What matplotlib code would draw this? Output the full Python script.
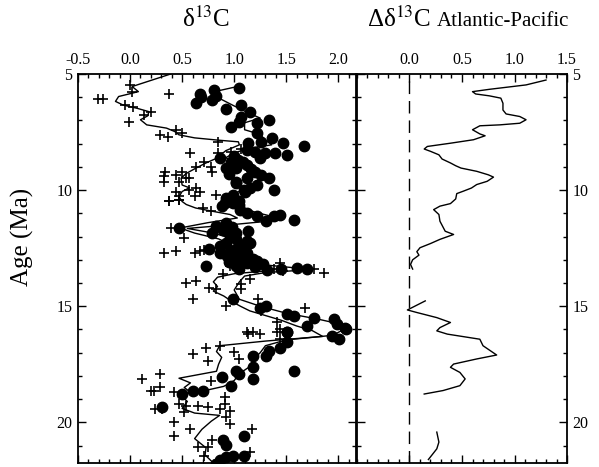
import matplotlib
matplotlib.use('Agg')
import matplotlib.pyplot as plt
from matplotlib.ticker import MultipleLocator, FixedLocator, FormatStrFormatter

plt.rcParams['font.family'] = ['Liberation Serif', 'DejaVu Serif']
plt.rcParams['mathtext.fontset'] = 'stix'

# ---------------- data ----------------
# Pacific (crosses): d13C values and ages (Ma)
pac_d13c = [0.00, 0.02, -0.31, -0.26, 0.37, -0.05, 0.03, 0.20, 0.13, -0.01,
            0.29, 0.36, 0.44, 0.50, 0.84, 0.58, 0.84, 0.97, 1.07, 0.63,
            0.71, 0.78, 0.79, 0.34, 0.33, 0.33, 0.44, 0.50, 0.54, 0.47,
            0.57, 0.44, 0.47, 0.57, 0.63, 0.67, 0.62, 0.37, 0.47, 0.83,
            0.37, 0.47, 0.70, 0.78, 0.39, 0.52, 0.33, 0.44, 0.62, 0.67,
            0.71, 0.96, 0.89, 0.54, 0.63, 0.76, 0.83, 1.07, 1.07, 1.15,
            0.60, 0.92, 1.23, 1.26, 1.44, 1.38, 1.47, 1.60, 1.77, 1.86,
            1.68, 1.12, 1.18, 1.41, 1.44,
            1.13, 1.25, 1.41, 1.44, 0.73, 0.86, 0.60, 0.75, 1.00, 1.05,
            0.29, 0.11, 0.29, 0.20, 0.23, 0.42, 0.78, 0.24, 0.31, 0.47,
            0.54, 0.65, 0.75, 0.91, 0.91, 0.96, 0.86, 0.92, 0.42, 0.58,
            0.96, 1.17, 0.42, 0.79, 0.65, 0.75, 0.71, 1.15, 0.52]
pac_age = [5.46, 5.77, 6.06, 6.06, 5.84, 6.34, 6.42, 6.63, 6.77, 7.06,
           7.63, 7.70, 7.42, 7.56, 7.92, 8.42, 8.42, 8.35, 8.23, 8.99,
           8.78, 8.99, 9.21, 9.21, 9.38, 9.64, 9.35, 9.21, 9.49, 9.64,
           9.46, 10.06, 10.24, 9.99, 9.92, 10.06, 10.24, 10.49, 10.42, 10.21,
           10.48, 10.41, 10.77, 10.91, 11.63, 12.06, 12.70, 12.63, 12.70, 12.62,
           12.58, 13.27, 13.63, 13.99, 13.92, 14.20, 14.27, 14.06, 14.24, 13.84,
           14.70, 14.99, 14.70, 15.20, 13.13, 13.41, 13.49, 13.34, 13.41, 13.56,
           15.06, 16.13, 16.13, 15.70, 16.00,
           16.20, 16.20, 16.13, 16.42, 16.78, 16.71, 17.06, 17.35, 16.99, 17.28,
           17.92, 18.14, 18.49, 18.64, 18.64, 18.71, 18.21, 19.43, 19.43, 19.20,
           19.28, 19.28, 19.35, 18.92, 19.20, 19.49, 19.42, 19.78, 19.99, 20.28,
           20.07, 20.28, 20.57, 20.78, 21.07, 21.07, 21.43, 21.28, 19.57]

# Atlantic (filled circles)
atl_d13c = [0.67, 0.68, 0.63, 0.81, 0.83, 0.79, 1.05, 1.07, 0.92, 1.15,
            1.07, 1.05, 1.33, 1.22, 0.97, 1.22, 1.36, 1.26, 1.47, 1.67,
            1.13, 1.12, 1.20, 1.25, 1.04, 0.97, 1.02, 1.12, 0.92, 0.86,
            1.39, 1.51, 1.30, 1.20, 1.26, 1.33, 1.12, 1.02, 1.38, 0.92,
            0.99, 1.09, 1.15, 1.22, 0.91, 0.99, 1.05,
            0.92, 1.05, 1.12, 1.22, 1.38, 1.44, 1.57, 1.31, 0.47, 0.83,
            0.89, 0.79, 0.96, 1.02, 1.12, 1.15, 0.76, 0.86, 0.96, 1.02,
            1.05, 1.12, 0.73, 1.09, 1.12, 1.22, 1.28, 1.60, 1.70, 1.02,
            0.99, 1.31, 1.25, 1.51, 1.57, 1.77, 1.96, 1.99, 2.06, 1.70,
            1.51, 1.02, 0.92, 0.86, 1.04, 1.02, 0.92,
            1.51, 1.51, 1.44, 1.94, 2.01, 2.07, 1.33, 1.31, 1.18, 1.02,
            1.05, 1.18, 1.18, 0.97, 1.57, 0.88, 0.70, 0.60, 0.50, 0.31,
            0.89, 0.92, 1.09, 0.92, 0.99, 1.09, 0.83, 0.86,
            1.00, 1.08, 1.16, 0.95, 1.02, 1.10, 0.88, 1.06, 0.98, 1.13,
            1.00, 1.07, 0.93, 1.10, 1.18, 0.95, 1.05, 1.20, 1.32, 1.45]
atl_age = [5.84, 5.99, 6.27, 5.70, 5.94, 6.13, 5.59, 6.34, 6.49, 6.63,
           6.85, 7.06, 6.99, 7.13, 7.27, 7.56, 7.77, 7.92, 7.99, 8.09,
           7.99, 8.28, 8.35, 8.63, 8.71, 8.78, 9.06, 8.92, 9.06, 8.63,
           8.42, 8.49, 8.42, 9.21, 9.35, 9.49, 9.49, 9.64, 9.99, 10.35,
           10.21, 9.99, 9.92, 9.78, 10.56, 10.56, 10.62,
           10.48, 10.48, 10.98, 11.13, 11.13, 11.05, 11.27, 11.34, 11.63, 11.55,
           11.70, 11.84, 11.98, 12.10, 12.20, 12.27, 12.55, 12.70, 12.62, 12.55,
           12.77, 12.70, 13.27, 12.99, 13.13, 13.06, 13.20, 13.34, 13.41, 13.27,
           14.70, 14.99, 15.06, 15.34, 15.42, 15.49, 15.56, 15.77, 15.92, 15.85,
           16.13, 11.84, 12.27, 12.41, 13.27, 12.99, 11.41,
           16.13, 16.56, 16.78, 16.28, 16.42, 15.99, 16.92, 17.13, 17.13, 17.78,
           17.92, 17.63, 18.14, 18.42, 17.78, 18.06, 18.64, 18.64, 18.78, 19.35,
           20.78, 20.99, 20.57, 21.50, 21.43, 21.43, 21.78, 21.64,
           8.55, 8.80, 9.10, 9.30, 9.70, 10.10, 10.70, 10.85, 11.60, 11.75,
           12.00, 12.40, 12.85, 12.85, 12.95, 13.10, 13.40, 13.30, 13.45, 13.40]

# Smoothed Pacific record
pac_line_age = [5.00, 5.54, 5.76, 5.97, 6.18, 6.33, 6.48, 6.62, 6.80, 6.97,
                7.19, 7.33, 7.48, 7.62, 7.75, 7.85, 7.92, 8.05, 8.30, 8.63,
                8.85, 9.06, 9.28, 9.49, 9.78, 9.90, 10.06, 10.28, 10.49, 10.62,
                10.77, 10.91, 11.05, 11.20, 11.40, 11.63, 11.85, 12.10, 12.35, 12.60,
                12.90, 13.20, 13.45, 13.60, 13.75, 13.95, 14.15, 14.35, 14.56, 14.80,
                15.00, 15.20, 15.40, 15.60, 15.85, 16.05, 16.30, 16.50, 16.70, 16.95,
                17.20, 17.50, 17.80, 17.95, 18.10, 18.30, 18.50, 18.70, 18.90, 19.10,
                19.40, 19.60, 19.70, 19.95, 20.30, 20.70, 21.10, 21.40, 21.75]
pac_line_d13c = [0.39, 0.02, 0.08, -0.11, -0.14, -0.07, 0.07, 0.18, 0.17, 0.10,
                 0.16, 0.35, 0.43, 0.47, 0.62, 0.85, 1.04, 1.05, 0.92, 0.83,
                 0.72, 0.63, 0.54, 0.49, 0.50, 0.57, 0.50, 0.47, 0.50, 0.54,
                 0.63, 0.79, 0.96, 1.03, 0.75, 0.48, 0.62, 0.85, 0.97, 1.02,
                 1.08, 1.20, 1.38, 1.00, 0.84, 0.80, 0.84, 0.80, 0.90, 0.98,
                 1.06, 1.15, 1.30, 1.45, 1.60, 1.75, 1.85, 1.30, 0.86, 0.83,
                 0.88, 0.85, 0.83, 0.65, 0.47, 0.58, 0.52, 0.58, 0.50, 0.55,
                 0.50, 0.62, 0.86, 0.78, 0.69, 0.62, 0.73, 0.72, 0.80]

# Smoothed Atlantic record
atl_line_age = [5.55, 5.76, 5.90, 6.10, 6.33, 6.60, 6.90, 7.10, 7.40, 7.60,
                7.85, 8.05, 8.20, 8.40, 8.60, 8.90, 9.20, 9.45, 9.70, 9.95,
                10.20, 10.45, 10.70, 10.95, 11.15, 11.35, 11.50, 11.65, 11.85, 12.05,
                12.30, 12.60, 12.90, 13.20, 13.42, 13.55, 13.70, 13.95, 14.30, 14.70,
                15.00, 15.30, 15.55, 15.75, 16.00, 16.25, 16.45, 16.70, 17.00, 17.30,
                17.60, 17.90, 18.20, 18.45, 18.60, 18.75]
atl_line_d13c = [1.02, 0.81, 0.81, 0.88, 0.98, 1.10, 1.25, 1.10, 1.10, 1.25,
                 1.30, 1.36, 1.14, 1.00, 0.92, 1.02, 1.15, 1.25, 1.20, 1.10,
                 0.98, 0.95, 1.05, 1.20, 1.38, 1.30, 0.95, 0.55, 0.80, 0.95,
                 1.05, 1.00, 1.10, 1.25, 1.75, 1.30, 1.10, 1.05, 1.00, 1.05,
                 1.25, 1.50, 1.80, 2.00, 2.05, 1.95, 1.50, 1.30, 1.25, 1.18,
                 1.15, 1.05, 1.00, 0.90, 0.75, 0.55]

# Atlantic-Pacific difference (three segments)
diff1_age = [5.26, 5.47, 5.66, 5.76, 5.86, 5.94, 6.04, 6.26, 6.55, 6.72,
             6.83, 6.97, 7.12, 7.19, 7.23, 7.40, 7.58, 7.66, 7.83, 7.98,
             8.12, 8.23, 8.33, 8.48, 8.66, 8.83, 8.95, 9.05, 9.19, 9.34,
             9.44, 9.62, 9.76, 9.91, 10.05, 10.15, 10.38, 10.58, 10.69, 10.84,
             11.05, 11.34, 11.77, 11.91, 12.12, 12.30, 12.48, 12.65, 12.80, 13.00,
             13.20, 13.40]
diff1_val = [1.30, 1.11, 0.76, 0.60, 0.63, 0.76, 0.87, 0.89, 0.89, 0.92,
             1.05, 1.11, 1.05, 0.86, 0.67, 0.60, 0.67, 0.72, 0.61, 0.39,
             0.17, 0.14, 0.20, 0.28, 0.31, 0.39, 0.44, 0.49, 0.64, 0.75,
             0.80, 0.74, 0.64, 0.59, 0.51, 0.45, 0.44, 0.39, 0.29, 0.23,
             0.28, 0.29, 0.34, 0.42, 0.29, 0.20, 0.10, 0.07, 0.09, 0.03,
             0.01, 0.03]
diff2_age = [14.77, 15.16, 15.27, 15.49, 15.70, 15.92, 16.06, 16.20, 16.42, 16.70,
             17.10, 17.27, 17.49, 17.63, 17.85, 18.13, 18.42, 18.63, 18.78]
diff2_val = [0.15, -0.02, 0.07, 0.26, 0.39, 0.29, 0.26, 0.36, 0.67, 0.70,
             0.83, 0.64, 0.42, 0.39, 0.48, 0.53, 0.48, 0.32, 0.14]
diff3_age = [20.42, 20.85, 21.14, 21.60]
diff3_val = [0.26, 0.28, 0.26, 0.18]

# ---------------- figure ----------------
fig = plt.figure(figsize=(5.99, 4.67), dpi=100)
W, H = 599, 467
ax1 = fig.add_axes([78 / W, 1 - 463 / H, 278 / W, 389 / H])
ax2 = fig.add_axes([357 / W, 1 - 463 / H, 210 / W, 389 / H])

ax1.plot(pac_line_d13c, pac_line_age, color='black', lw=1.0, zorder=2)
ax1.plot(atl_line_d13c, atl_line_age, color='black', lw=1.0, zorder=2)
ax1.plot(pac_d13c, pac_age, linestyle='none', marker='+', color='black',
         ms=7.5, mew=1.2, zorder=3)
ax1.plot(atl_d13c, atl_age, linestyle='none', marker='o', color='black',
         ms=7.5, zorder=3)

ax2.plot(diff1_val, diff1_age, color='black', lw=1.0)
ax2.plot(diff2_val, diff2_age, color='black', lw=1.0)
ax2.plot(diff3_val, diff3_age, color='black', lw=1.0)
ax2.axvline(0.0, color='black', lw=1.0, dashes=(9, 5))

ax1.set_xlim(-0.5, 2.17)
ax2.set_xlim(-0.5, 1.5)
for ax in (ax1, ax2):
    ax.set_ylim(21.75, 5)
    ax.yaxis.set_major_locator(FixedLocator([5, 10, 15, 20]))
    ax.yaxis.set_minor_locator(MultipleLocator(1))
    ax.xaxis.set_minor_locator(MultipleLocator(0.1))
    ax.xaxis.set_major_formatter(FormatStrFormatter('%.1f'))
    ax.tick_params(which='both', direction='in', top=True, bottom=True,
                   left=True, right=True, labeltop=True, labelbottom=False,
                   width=1.0, labelsize=11.5, pad=4)
    ax.tick_params(which='major', length=6)
    ax.tick_params(which='minor', length=3)
    for s in ax.spines.values():
        s.set_linewidth(1.3)

ax1.set_xticks([-0.5, 0.0, 0.5, 1.0, 1.5, 2.0])
ax2.set_xticks([0.0, 0.5, 1.0, 1.5])
ax1.tick_params(labelleft=True, labelright=False)
ax2.tick_params(labelleft=False, labelright=True)

fig.text(206 / W, 1 - 19 / H, 'δ$^{13}$C', ha='center', va='center', fontsize=18)
fig.text(367 / W, 1 - 19 / H, 'Δδ$^{13}$C', ha='left', va='center', fontsize=18)
fig.text(437 / W, 1 - 21 / H, 'Atlantic-Pacific', ha='left', va='center', fontsize=15)
fig.text(22 / W, 1 - 237 / H, 'Age (Ma)', rotation=90, ha='center', va='center',
         fontsize=18)

fig.savefig('out.png', dpi=100)
